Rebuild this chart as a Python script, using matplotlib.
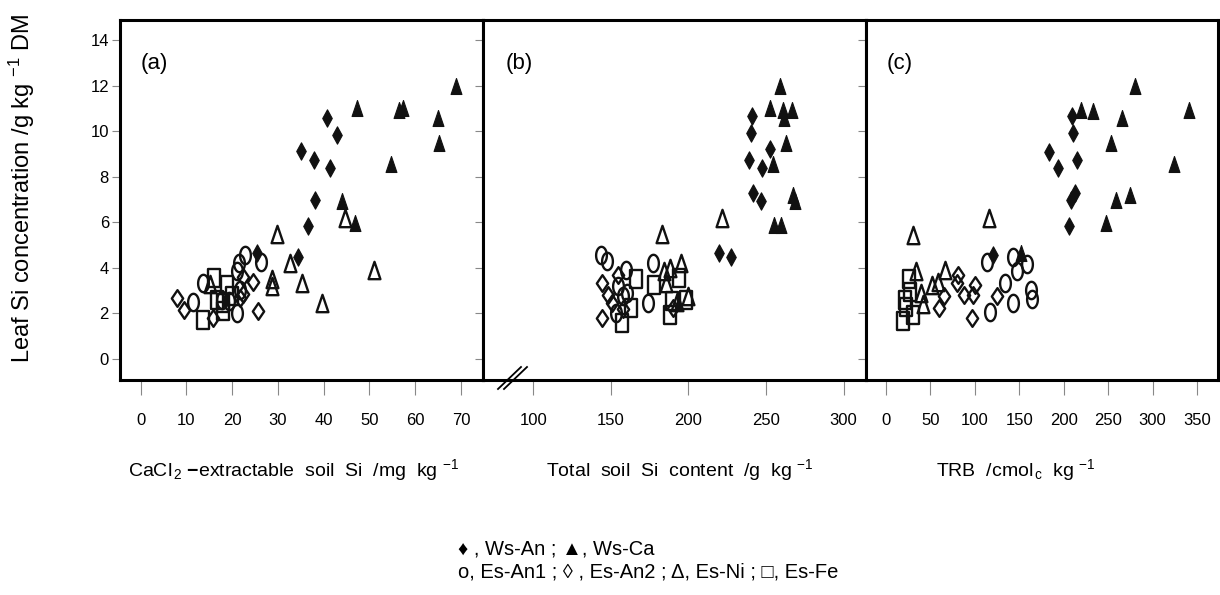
import numpy as np
import matplotlib
matplotlib.use("Agg")
import matplotlib.pyplot as plt
from matplotlib.path import Path
from matplotlib.lines import Line2D

plt.rcParams['mathtext.fontset'] = 'custom'
plt.rcParams['mathtext.rm'] = 'Liberation Sans'
plt.rcParams['mathtext.it'] = 'Liberation Sans:italic'
plt.rcParams['mathtext.bf'] = 'Liberation Sans:bold'

# ---- data ----
# panel (a): CaCl2-extractable soil Si (mg/kg)
ws_an_a_x = [40.8, 42.9, 35.1, 37.8, 41.3, 38.2, 36.6, 34.4, 25.4]
ws_an_a_y = [10.6, 9.85, 9.15, 8.75, 8.4, 7.0, 5.85, 4.5, 4.65]
ws_ca_a_x = [69.0, 47.3, 56.4, 57.3, 64.9, 65.2, 54.7, 43.9, 46.8]
ws_ca_a_y = [12.0, 11.0, 10.95, 11.0, 10.6, 9.5, 8.55, 6.95, 5.95]
es_an1_a_x = [22.7, 26.4, 21.5, 21.1, 13.7, 11.4, 21.0, 17.7, 21.7, 19.3]
es_an1_a_y = [4.55, 4.25, 4.2, 3.85, 3.35, 2.5, 2.0, 2.6, 3.05, 2.55]
es_an2_a_x = [8.0, 9.5, 15.9, 24.6, 25.6, 22.4, 22.4, 21.7]
es_an2_a_y = [2.7, 2.15, 1.8, 3.4, 2.1, 3.6, 2.85, 2.7]
es_ni_a_x = [29.9, 44.6, 51.0, 32.6, 28.7, 28.7, 35.2, 39.6, 15.1]
es_ni_a_y = [5.5, 6.2, 3.9, 4.2, 3.5, 3.2, 3.35, 2.45, 3.3]
es_fe_a_x = [13.7, 16.1, 18.8, 16.6, 18.1, 18.1, 19.9]
es_fe_a_y = [1.7, 3.55, 3.25, 2.6, 2.45, 2.1, 2.75]

# panel (b): total soil Si content (g/kg)
ws_an_b_x = [241.0, 240.6, 239.3, 247.3, 241.9, 246.8, 219.6, 227.1, 252.6]
ws_an_b_y = [10.65, 9.9, 8.75, 8.4, 7.3, 6.95, 4.65, 4.5, 9.2]
ws_ca_b_x = [259.3, 252.4, 261.2, 266.6, 261.8, 262.7, 254.6, 267.2, 268.9, 255.4, 259.7]
ws_ca_b_y = [12.0, 11.0, 10.95, 10.95, 10.6, 9.5, 8.55, 7.2, 6.95, 5.9, 5.9]
es_an1_b_x = [143.9, 147.2, 160.0, 177.2, 174.0, 154.7, 157.9, 153.6, 160.5]
es_an1_b_y = [4.55, 4.3, 3.9, 4.2, 2.45, 3.2, 2.75, 2.0, 2.9]
es_an2_b_x = [144.4, 144.4, 154.7, 148.2, 151.0, 158.0, 190.0]
es_an2_b_y = [3.35, 1.8, 3.7, 2.8, 2.45, 2.2, 2.25]
es_ni_b_x = [183.0, 221.5, 195.4, 184.0, 187.9, 199.7, 185.7, 192.5]
es_ni_b_y = [5.5, 6.2, 4.2, 3.85, 4.0, 2.75, 3.35, 2.5]
es_fe_b_x = [157.4, 166.5, 177.8, 163.2, 188.3, 193.9, 198.6, 189.2]
es_fe_b_y = [1.6, 3.5, 3.25, 2.25, 1.95, 3.55, 2.6, 2.55]

# panel (c): TRB (cmolc/kg)
ws_an_c_x = [209.5, 209.9, 182.9, 214.4, 193.4, 212.5, 208.0, 205.8, 119.9]
ws_an_c_y = [10.65, 9.9, 9.1, 8.75, 8.4, 7.3, 7.0, 5.85, 4.55]
ws_ca_c_x = [280.4, 340.7, 219.6, 233.5, 265.7, 253.0, 323.8, 274.4, 258.6, 248.1, 151.8]
ws_ca_c_y = [12.0, 10.95, 10.95, 10.9, 10.6, 9.5, 8.55, 7.2, 7.0, 5.95, 4.65]
es_an1_c_x = [113.2, 143.2, 158.2, 146.9, 133.8, 143.2, 116.9, 163.0, 163.8]
es_an1_c_y = [4.25, 4.5, 4.15, 3.85, 3.35, 2.45, 2.05, 3.05, 2.65]
es_an2_c_x = [81.3, 80.2, 100.1, 87.7, 97.5, 124.4, 65.6, 59.6, 97.1]
es_an2_c_y = [3.7, 3.35, 3.25, 2.8, 2.8, 2.75, 2.75, 2.25, 1.8]
es_ni_c_x = [30.7, 116.2, 33.7, 66.3, 51.3, 58.8, 39.0, 42.0]
es_ni_c_y = [5.45, 6.2, 3.85, 3.9, 3.25, 3.4, 2.9, 2.4]
es_fe_c_x = [19.5, 30.7, 26.2, 21.4, 27.0, 23.0]
es_fe_c_y = [1.65, 1.95, 3.5, 2.6, 2.95, 2.3]

panel_tags = ['(a)', '(b)', '(c)']
x_ticks_a = [0, 10, 20, 30, 40, 50, 60, 70]
x_ticks_b = [100, 150, 200, 250, 300]
x_ticks_c = [0, 50, 100, 150, 200, 250, 300, 350]
y_ticks = [0, 2, 4, 6, 8, 10, 12, 14]


def shape(xy):
    xy = list(xy) + [xy[0]]
    codes = [Path.MOVETO] + [Path.LINETO] * (len(xy) - 2) + [Path.CLOSEPOLY]
    return Path(xy, codes)


t = np.linspace(0, 2 * np.pi, 48, endpoint=False)
m_circle = shape(np.column_stack([0.62 * np.cos(t), np.sin(t)]))
m_diam_f = shape([(0, 1), (0.55, 0), (0, -1), (-0.55, 0)])
m_diam_o = shape([(0, 1), (0.68, 0), (0, -1), (-0.68, 0)])
m_tri = shape([(0, 1), (0.68, -1), (-0.68, -1)])
m_square = shape([(-0.68, -1), (0.68, -1), (0.68, 1), (-0.68, 1)])

W, H = 1220, 595
fig = plt.figure(figsize=(W / 100, H / 100), dpi=100)

# axes boxes in pixels: left, right
boxes = [(120, 483), (483, 866), (866, 1218)]
top, bottom = 20, 380
xlims = [(-4.5, 74.8), (67.6, 314.4), (-22.5, 373.6)]
xticks = [x_ticks_a, x_ticks_b, x_ticks_c]

series = [
    [(ws_an_a_x, ws_an_a_y), (ws_ca_a_x, ws_ca_a_y), (es_an1_a_x, es_an1_a_y),
     (es_an2_a_x, es_an2_a_y), (es_ni_a_x, es_ni_a_y), (es_fe_a_x, es_fe_a_y)],
    [(ws_an_b_x, ws_an_b_y), (ws_ca_b_x, ws_ca_b_y), (es_an1_b_x, es_an1_b_y),
     (es_an2_b_x, es_an2_b_y), (es_ni_b_x, es_ni_b_y), (es_fe_b_x, es_fe_b_y)],
    [(ws_an_c_x, ws_an_c_y), (ws_ca_c_x, ws_ca_c_y), (es_an1_c_x, es_an1_c_y),
     (es_an2_c_x, es_an2_c_y), (es_ni_c_x, es_ni_c_y), (es_fe_c_x, es_fe_c_y)],
]
# marker, filled, size
styles = [(m_diam_f, True, 12.5), (m_tri, True, 11.5),
          (m_circle, False, 12.5), (m_diam_o, False, 12),
          (m_tri, False, 12.5), (m_square, False, 12.5)]

narrow = ['Liberation Sans Narrow', 'Liberation Sans', 'DejaVu Sans']
sans = ['Liberation Sans', 'DejaVu Sans']

axes = []
for i, (l, r) in enumerate(boxes):
    ax = fig.add_axes([l / W, 1 - bottom / H, (r - l) / W, (bottom - top) / H])
    axes.append(ax)
    for k, (xs, ys) in enumerate(series[i]):
        mk, filled, ms = styles[k]
        ax.plot(xs, ys, ls='none', marker=mk, ms=ms,
                mfc='#111111' if filled else 'none', mec='#111111',
                mew=0.8 if filled else 1.7, zorder=3 if filled else 2)
    ax.set_xlim(*xlims[i])
    ax.set_ylim(-0.92, 14.88)
    ax.set_xticks(xticks[i])
    ax.set_xticklabels([str(v) for v in xticks[i]], fontfamily=narrow, fontsize=12)
    ax.set_yticks(y_ticks)
    if i == 0:
        ax.set_yticklabels([str(v) for v in y_ticks], fontfamily=narrow, fontsize=12)
    else:
        ax.set_yticklabels([])
    ax.tick_params(axis='x', direction='out', length=11, width=0.8, color='#888888', pad=13)
    ax.tick_params(axis='y', direction='out', length=6, width=0.8, color='#888888', pad=2)
    for s in ax.spines.values():
        s.set_linewidth(2.2)
    ax.text(0.095, 0.88, panel_tags[i], transform=ax.transAxes,
            fontfamily=narrow, fontsize=16, ha='center', va='center')

# axis break mark on panel (b)
for dx in (0, 6):
    fig.add_artist(Line2D([(498 + dx) / W, (521 + dx) / W], [1 - 389 / H, 1 - 367 / H],
                          transform=fig.transFigure, color='black', lw=1.3))

# axis titles
fig.text(294 / W, 1 - 470 / H,
         r"CaCl$_{\,2}$ $\mathbf{-}$extractable  soil  Si  /mg  kg $^{-1}$",
         fontfamily=sans, fontsize=14, ha='center', va='center')
fig.text(680 / W, 1 - 470 / H, r"Total  soil  Si  content  /g  kg $^{-1}$",
         fontfamily=sans, fontsize=14, ha='center', va='center')
fig.text(1016 / W, 1 - 470 / H, r"TRB  /cmol$_{\,\mathrm{c}}$  kg $^{-1}$",
         fontfamily=sans, fontsize=14, ha='center', va='center')
fig.text(22 / W, 1 - 188 / H, r"Leaf Si concentration /g kg $^{-1}$ DM",
         fontfamily=sans, fontsize=17, rotation=90, ha='center', va='center')

# legend text
fig.text(458 / W, 1 - 549 / H, "\u2666 , Ws-An ; \u25B2, Ws-Ca",
         fontfamily=sans, fontsize=14.5, ha='left', va='center')
fig.text(458 / W, 1 - 572 / H, "o, Es-An1 ; \u25CA , Es-An2 ; \u0394, Es-Ni ; \u25A1, Es-Fe",
         fontfamily=sans, fontsize=14.5, ha='left', va='center')

fig.savefig('out.png', dpi=100)
